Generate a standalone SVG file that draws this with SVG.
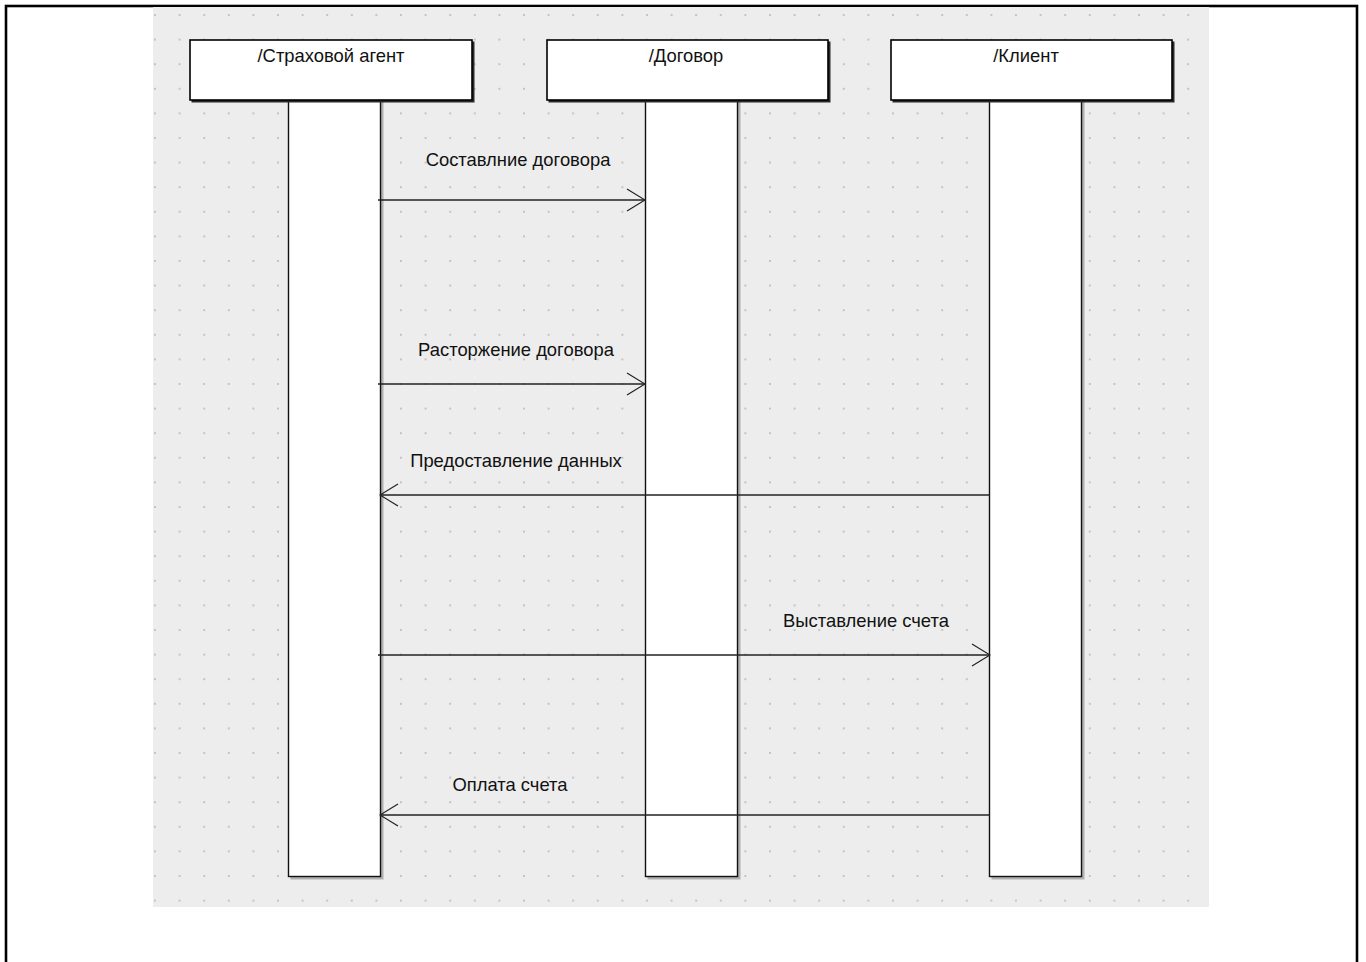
<svg xmlns="http://www.w3.org/2000/svg" width="1366" height="962" viewBox="0 0 1366 962">
<defs>
<pattern id="dots" x="154" y="14" width="24.6" height="24.6" patternUnits="userSpaceOnUse">
<rect x="0" y="0" width="2" height="2" fill="#c4c4c4"/>
</pattern>
<marker id="open" viewBox="0 0 20 24" refX="19" refY="12" markerWidth="20" markerHeight="24" markerUnits="userSpaceOnUse" orient="auto">
<path d="M1,1 L19,12 L1,23" fill="none" stroke="#222" stroke-width="1.2"/>
</marker>
<style>
.hdr{fill:#fff;stroke:#000;stroke-width:1.6}
.hsh{fill:#2a2a2a}
.life{fill:#fff;stroke:#111;stroke-width:1.4}
.lsh{fill:#b0b0b0}
.t{font-family:"Liberation Sans",Arial,sans-serif;font-size:18.4px;fill:#111;text-anchor:middle}
.msg{stroke:#222;stroke-width:1.3;fill:none;marker-end:url(#open)}
</style>
</defs>
<rect x="0" y="0" width="1366" height="962" fill="#fff"/>
<rect x="6" y="6" width="1351" height="990" fill="none" stroke="#000" stroke-width="2.6"/>
<rect x="153" y="7" width="1056" height="900" fill="#ededed"/>
<rect x="153" y="7" width="1056" height="900" fill="url(#dots)"/>

<g id="agent">
<rect class="lsh" x="290.5" y="102" width="93" height="777.5"/>
<rect class="life" x="288.5" y="100" width="92" height="776.5"/>
<rect class="hsh" x="191.5" y="41.5" width="283" height="61"/>
<rect class="hdr" x="190" y="40" width="282" height="60"/>
<text class="t" x="331" y="62">/Страховой агент</text>
</g>

<g id="contract">
<rect class="lsh" x="647.5" y="102" width="93" height="777.5"/>
<rect class="life" x="645.5" y="100" width="92" height="776.5"/>
<rect class="hsh" x="548.5" y="41.5" width="282" height="61"/>
<rect class="hdr" x="547" y="40" width="281" height="60"/>
<text class="t" x="686" y="62">/Договор</text>
</g>

<g id="client">
<rect class="lsh" x="991.5" y="102" width="93" height="777.5"/>
<rect class="life" x="989.5" y="100" width="92" height="776.5"/>
<rect class="hsh" x="892.5" y="41.5" width="282" height="61"/>
<rect class="hdr" x="891" y="40" width="281" height="60"/>
<text class="t" x="1026" y="62">/Клиент</text>
</g>

<g id="connectors">
<line class="msg" x1="378" y1="200" x2="645" y2="200"/>
<text class="t" x="518" y="166">Составлние договора</text>
<line class="msg" x1="378" y1="384" x2="645" y2="384"/>
<text class="t" x="516" y="356">Расторжение договора</text>
<line class="msg" x1="990" y1="495" x2="380" y2="495"/>
<text class="t" x="516" y="467">Предоставление данных</text>
<line class="msg" x1="378" y1="655" x2="990" y2="655"/>
<text class="t" x="866" y="627">Выставление счета</text>
<line class="msg" x1="990" y1="815" x2="380" y2="815"/>
<text class="t" x="510" y="791">Оплата счета</text>
</g>
</svg>
